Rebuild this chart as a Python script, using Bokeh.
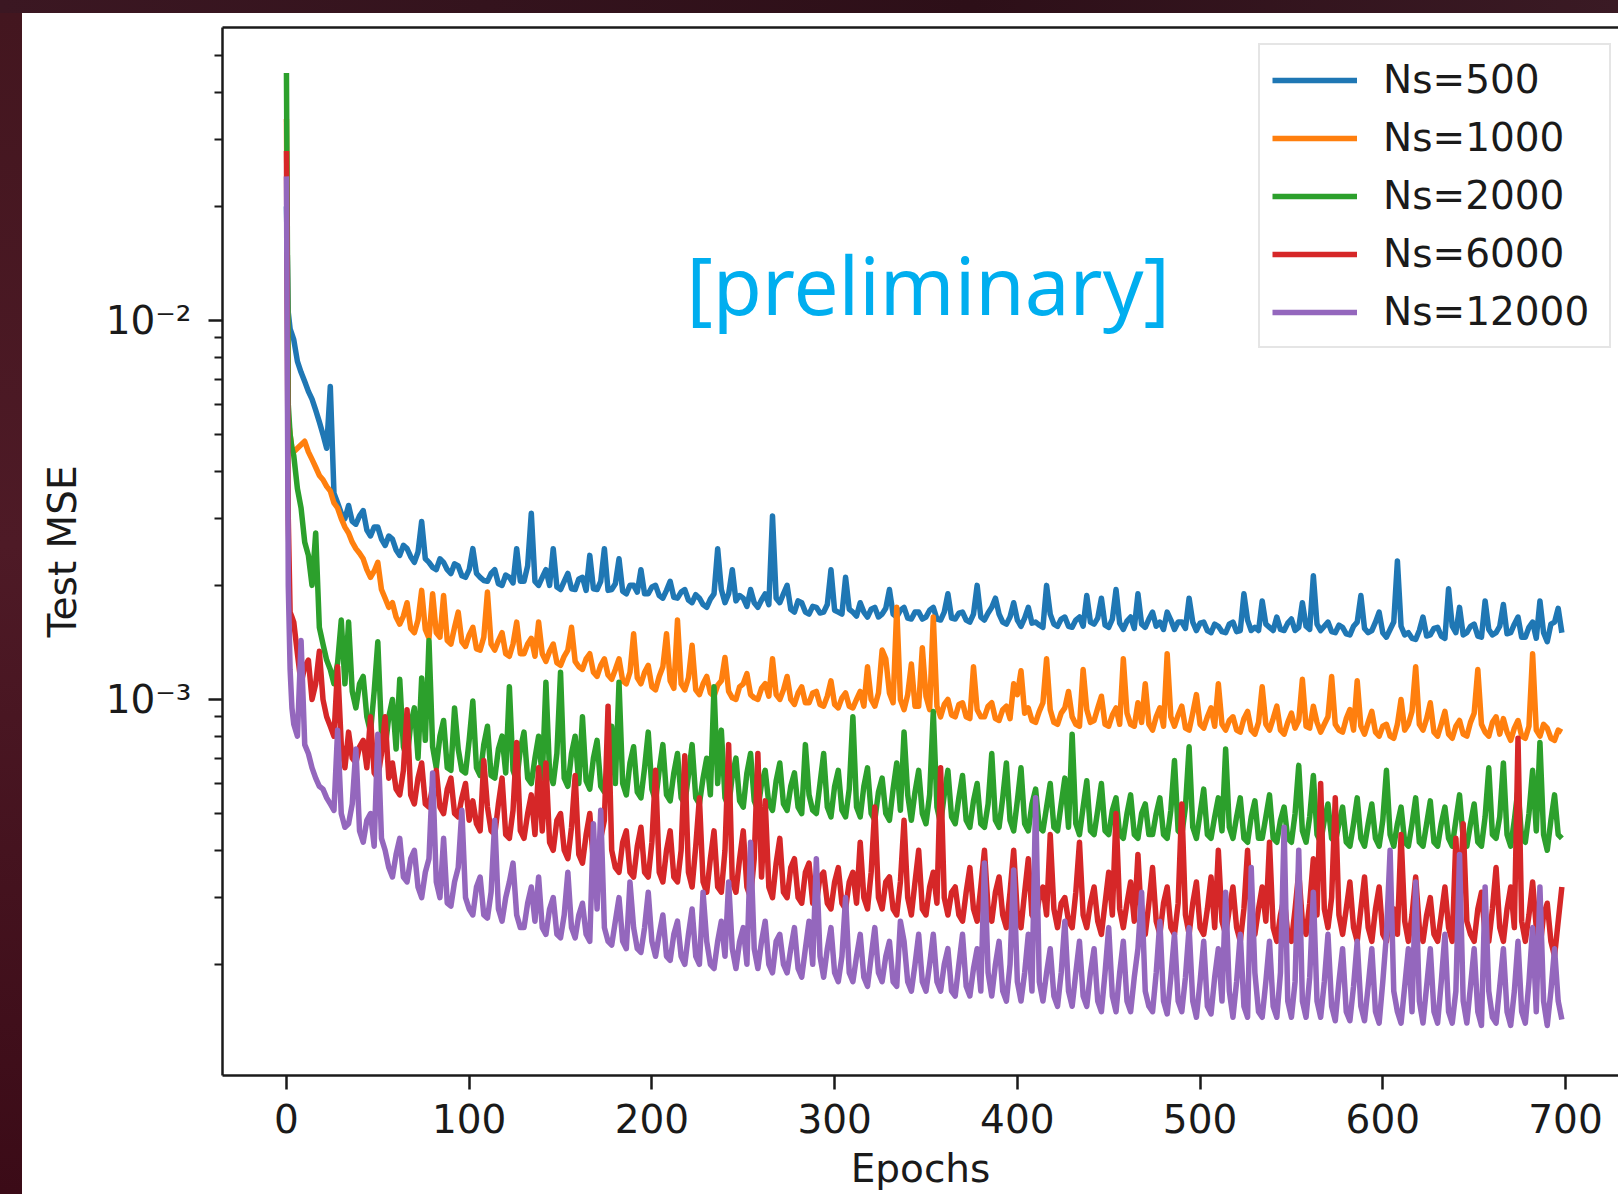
import numpy as np
from bokeh.plotting import figure
from bokeh.models import Range1d, FixedTicker, LinearAxis, Legend, LegendItem, Label, Spacer
from bokeh.layouts import column, row
from bokeh.embed import file_html
from bokeh.resources import INLINE

# Epochs at which the test error is sampled
epochs = [0, 1, 2, 3, 4, 6, 8, 10, 12, 14, 16, 18, 20, 22, 24, 26, 28] + list(range(30, 700, 2))

# Test MSE in units of 1e-4; after the first 17 samples each row spans 20 epochs
mse_ns500 = [
    200, 105, 95, 92, 89, 78, 73, 69, 65, 62, 58, 54, 50, 46, 67, 35, 33,
    31, 30, 32.5, 29.5, 29, 30.5, 31.5, 28, 27, 28.5,            # 30
    28.5, 26.5, 25.5, 27, 26.5, 24.8, 24, 25.5, 25, 23.8,        # 50
    23, 24.5, 29.5, 23.5, 23, 22.3, 22, 23.5, 23, 22,            # 70
    21.5, 22.8, 22.5, 21.2, 21, 22, 25, 21.5, 21, 20.6,          # 90
    20.5, 21.5, 22, 20.2, 20, 21.3, 21, 20.3, 25, 20.5,          # 110
    20.5, 22.5, 31, 20.5, 20, 21, 22, 20, 25, 19.8,              # 130
    19.5, 20.5, 21.5, 19.6, 19.5, 20.8, 21, 19.4, 24, 19.6,      # 150
    19.5, 20.5, 25, 19.4, 19.5, 20.2, 23.5, 19.3, 19, 20,        # 170
    20, 19.2, 22, 19, 19, 19.8, 20, 18.8, 18.5, 19.4,            # 190
    20.5, 18.6, 18.5, 19.2, 19.5, 18.3, 18, 18.9, 18.5, 17.8,    # 210
    17.5, 18.4, 19, 25, 19.5, 18, 19, 22, 18.2, 18.8,            # 230
    18.5, 17.6, 19.5, 18, 17.5, 18.3, 19, 17.8, 30.5, 18.5,      # 250
    18, 19, 20, 17.3, 17, 18.2, 18, 17, 16.8, 17.6,              # 270
    17.5, 16.9, 17, 17.8, 22, 17.2, 17, 16.8, 21, 17.3,          # 290
    17, 16.6, 18, 17, 16.5, 17.3, 17.5, 16.5, 16.8, 17.4,        # 310
    19.5, 16.8, 16.5, 17.2, 17.5, 16.4, 16.3, 17, 17, 16.3,      # 330
    16.5, 17.2, 17.5, 16.3, 16.2, 17, 19, 16.4, 16.3, 16.9,      # 350
    17, 16.2, 16, 16.8, 20, 16.5, 16.2, 16.9, 17.5, 18.5,        # 370
    16.8, 16, 15.8, 16.5, 18, 16.2, 15.6, 16.4, 17.5, 15.9,      # 390
    16, 15.7, 15.5, 20, 16.8, 15.8, 15.6, 16.3, 16.5, 15.6,      # 410
    15.5, 16.2, 16.5, 15.6, 18.8, 16, 15.8, 16.4, 18.5, 15.7,    # 430
    15.5, 16.3, 19.5, 15.9, 15.3, 16.1, 16.5, 15.4, 19, 15.8,    # 450
    15.5, 16.3, 17, 15.6, 16, 15.3, 17, 16.2, 15.3, 16,          # 470
    16, 15.4, 18.5, 16, 15.2, 15.9, 16, 15.2, 15, 15.8,          # 490
    15.6, 15.1, 15, 15.8, 16, 15.1, 15.2, 19, 16.2, 15.2,        # 510
    15.5, 15.2, 18.2, 15.8, 15.5, 15.2, 16.5, 15.3, 15.2, 15.9,  # 530
    16.3, 15.2, 15.5, 18, 15.6, 15.3, 21.2, 15.8, 15.2, 15.6,    # 550
    16, 15.1, 15, 15.7, 15.5, 14.9, 14.8, 15.6, 16, 18.8,        # 570
    15.4, 15, 15.2, 16, 17, 15, 14.6, 15.3, 16, 23.2,            # 590
    15.6, 14.8, 15, 14.5, 14.4, 15.2, 16.5, 14.7, 14.8, 15.4,    # 610
    15.5, 14.7, 14.5, 19.6, 15.6, 15, 17.5, 14.8, 15, 15.6,      # 630
    15.8, 14.7, 14.6, 18.2, 15.3, 14.8, 15, 15.6, 17.8, 14.9,    # 650
    15, 15.8, 16.5, 14.6, 14.6, 15.5, 16, 14.5, 18.2, 15,        # 670
    14.2, 15.8, 16, 17.4, 15,                                    # 690
]

mse_ns1000 = [
    340, 55, 50, 46, 45, 46, 47, 48, 45, 43, 41, 39, 38, 36.5, 35.5, 33, 32,
    30, 28.5, 27.5, 26, 25, 24.3, 23.5, 22, 21, 21.8,            # 30
    23, 19.5, 18.5, 17.5, 18, 16.5, 15.8, 16.6, 18, 15.4,        # 50
    15, 16.2, 19.4, 15.3, 14.5, 19, 15, 14.6, 18.8, 14.3,        # 70
    14, 15.5, 17, 14.2, 13.8, 14.8, 15.5, 13.6, 13.5, 14.6,      # 90
    19.2, 14, 13.5, 14.3, 15, 13.2, 13, 14, 16, 13.2,            # 110
    13.2, 14, 14.5, 13, 16, 13.2, 12.6, 13.4, 14, 12.5,          # 130
    12.3, 13, 13.5, 15.5, 12.6, 12.2, 12, 12.8, 13.2, 11.8,      # 150
    11.5, 12.3, 12.8, 11.6, 11.3, 12, 12.8, 11.2, 11, 11.8,      # 170
    14.9, 11.4, 11, 11.8, 12.3, 10.8, 10.6, 11.5, 12.2, 14.9,    # 190
    11.2, 10.7, 16.2, 11, 10.6, 11.4, 13.9, 10.6, 10.3, 11,      # 210
    11.5, 10.4, 10.2, 10.9, 11.2, 12.9, 10.5, 10.1, 10, 10.8,    # 230
    11, 11.7, 10.3, 10.1, 10, 10.7, 11, 10.2, 12.8, 10.3,        # 250
    10, 10.6, 11.5, 10, 9.7, 10.4, 10.8, 9.8, 9.8, 10.4,         # 270
    10.5, 9.7, 9.6, 10.2, 11.2, 9.7, 9.5, 10.1, 10.4, 9.6,       # 290
    9.5, 10, 10.5, 9.6, 12.2, 10, 9.6, 10.4, 13.5, 12.8,         # 310
    10.4, 9.8, 17.5, 10, 9.4, 10.3, 12.4, 9.6, 9.6, 13.7,        # 330
    10.2, 9.4, 16.5, 9.6, 9, 9.7, 10, 9.1, 9, 9.7,               # 350
    9.8, 9, 8.9, 12.2, 9.4, 9, 9, 9.6, 9.8, 8.9,                 # 370
    8.8, 9.4, 9.6, 8.9, 11, 10.3, 11.9, 9.2, 9.5, 8.8,           # 390
    8.7, 9.3, 9.8, 12.8, 9.4, 8.7, 8.6, 9.2, 9.5, 10.5,          # 410
    9, 8.6, 8.5, 12, 9.4, 8.7, 8.8, 9.5, 10.2, 8.6,              # 430
    8.5, 9.1, 9.5, 8.6, 12.8, 9.2, 8.6, 8.5, 9.8, 8.7,           # 450
    11, 8.6, 8.3, 9, 9.5, 8.5, 13.2, 9, 8.5, 9.1,                # 470
    9.6, 8.4, 8.3, 9.2, 10.3, 8.6, 8.4, 9, 9.5, 8.5,             # 490
    11, 8.6, 8.3, 8.8, 9, 8.3, 8.2, 8.9, 9.3, 8.3,               # 510
    8.1, 8.7, 10.8, 8.6, 8.3, 8.9, 9.6, 8.3, 8.1, 8.7,           # 530
    9.2, 8.4, 8.8, 11.3, 8.5, 8.4, 9.6, 8.7, 8.2, 8.6,           # 550
    9, 11.5, 8.6, 8.3, 8.2, 8.9, 9.4, 8.3, 11.2, 8.5,            # 570
    8.1, 8.7, 9.3, 8.2, 8, 8.5, 8.6, 8, 7.9, 8.6,                # 590
    10, 8.3, 8.6, 9.3, 12.2, 8.6, 8.3, 8.9, 9.8, 8.2,            # 610
    8, 8.6, 9.3, 8.1, 7.9, 8.5, 8.8, 8.1, 8, 8.7,                # 630
    9.2, 12, 8.6, 8.2, 8, 8.7, 9, 8.1, 8.9, 8.2,                 # 650
    7.8, 8.4, 8.8, 8, 7.9, 8.5, 13.2, 8.3, 8, 8.6,               # 670
    8.4, 7.9, 7.8, 8.3, 8.2,                                     # 690
]

mse_ns2000 = [
    450, 60, 50, 46, 44, 36, 32, 26, 24, 20, 27.5, 15.5, 14, 12.7, 12, 11, 12.5,
    16.2, 11, 16, 10.5, 9.5, 11, 11.5, 9, 8.2, 10.5,             # 30
    14.2, 8.2, 7.4, 9, 10, 7.4, 11.3, 7.5, 7, 8.6,               # 50
    9.5, 7, 11.4, 7.8, 14.3, 7.5, 6.6, 8, 8.8, 6.6,              # 70
    6.5, 9.5, 7.4, 6.5, 6.4, 7.8, 9.9, 6.6, 6.3, 7.6,            # 90
    8.5, 6.3, 6.2, 7.4, 8, 6.4, 10.8, 6.5, 6.1, 7.4,             # 110
    8.2, 6.2, 6, 7, 8, 6.2, 11.1, 6.4, 6, 7.2,                   # 130
    11.8, 6.2, 5.9, 7.2, 8, 6, 9, 6.1, 5.8, 7,                   # 150
    7.8, 5.9, 5.7, 6.8, 8.5, 6, 11.1, 6, 5.6, 6.8,               # 170
    7.5, 5.7, 5.5, 6.6, 8.2, 5.8, 5.4, 6.5, 7.6, 5.6,            # 190
    5.4, 6.4, 7.2, 5.5, 5.3, 6.3, 7.6, 5.5, 5.3, 6.2,            # 210
    7, 5.6, 10.8, 6, 8.3, 5.5, 5.2, 6.3, 7, 5.4,                 # 230
    5.2, 6.4, 7.2, 5.4, 5.1, 6, 6.5, 5.3, 5.1, 6.1,              # 250
    6.8, 5.3, 5.1, 5.9, 6.4, 5.2, 5, 7.6, 5.6, 5.1,              # 270
    5, 6, 7.2, 5.2, 4.9, 5.9, 6.5, 5.1, 4.9, 5.8,                # 290
    9, 5.2, 4.9, 5.9, 6.6, 5, 4.8, 5.7, 6.2, 5,                  # 310
    4.8, 5.8, 6.8, 5.1, 8.2, 5.6, 4.8, 5.7, 6.5, 5,              # 330
    4.7, 5.6, 9.3, 5.2, 4.7, 5.6, 6.5, 4.9, 4.7, 5.5,            # 350
    6.3, 4.8, 4.6, 5.4, 6, 4.7, 4.6, 5.3, 7.2, 4.8,              # 370
    4.6, 5.5, 6.8, 4.8, 4.5, 5.4, 6.6, 4.7, 4.5, 5.3,            # 390
    5.8, 4.6, 4.5, 5.2, 6, 4.6, 4.5, 5.3, 6.2, 4.6,              # 410
    8.1, 4.7, 4.4, 5.2, 6.1, 4.5, 4.4, 5.1, 6, 4.5,              # 430
    4.4, 5.1, 5.5, 4.4, 4.3, 5, 5.6, 4.4, 4.3, 5,                # 450
    5.3, 4.4, 4.4, 5, 5.5, 4.4, 4.3, 5.1, 6.9, 4.5,              # 470
    4.4, 5.2, 7.5, 4.6, 4.3, 5, 5.8, 4.4, 4.3, 4.9,              # 490
    5.5, 4.5, 7.4, 4.6, 4.3, 4.9, 5.5, 4.3, 4.2, 4.9,            # 510
    5.4, 4.3, 4.3, 4.9, 5.6, 4.3, 4.2, 4.8, 5.2, 4.3,            # 530
    4.2, 5, 6.7, 4.5, 4.2, 4.9, 6.3, 4.4, 4.2, 4.8,              # 550
    5.3, 4.3, 4.2, 4.7, 5.2, 4.2, 4.1, 4.7, 5.5, 4.3,            # 570
    4.1, 4.7, 5.3, 4.3, 4.1, 4.8, 6.5, 4.4, 4.1, 4.7,            # 590
    5.2, 4.2, 4.1, 4.7, 5.5, 4.2, 4.1, 4.7, 5.4, 4.2,            # 610
    4.1, 4.7, 5.2, 4.3, 4.1, 4.8, 5.6, 4.3, 4.1, 4.7,            # 630
    5.3, 4.2, 4.1, 4.9, 6.6, 4.4, 4.3, 4.9, 6.8, 4.4,            # 650
    4.1, 4.8, 5.8, 4.3, 4.2, 5, 6.5, 4.5, 7.7, 4.4,              # 670
    4.0, 4.8, 5.6, 4.4, 4.3,                                     # 690
]

mse_ns6000 = [
    280, 30, 17, 16.5, 16, 13.2, 11, 12.2, 12.7, 10, 11, 13.4, 10, 9, 8.5, 8, 12.2,
    7.6, 6.6, 8.2, 7, 6.8, 7.5, 7.8, 6.6, 9, 6.4,                # 30
    6.2, 7.2, 9, 6.2, 6.8, 5.8, 5.6, 6.5, 9.4, 5.6,              # 50
    5.3, 6.2, 6.8, 5.3, 5.2, 5.9, 6.5, 5.2, 5, 5.8,              # 70
    6.2, 5, 4.9, 5.5, 6, 4.8, 5.4, 4.7, 4.5, 6.9,                # 90
    5.2, 4.5, 4.4, 5.3, 6.2, 4.4, 4.3, 5.1, 7.7, 4.5,            # 110
    4.3, 5, 5.6, 4.4, 6.6, 4.5, 6.8, 4.2, 4, 4.8,                # 130
    5, 4, 3.8, 4.6, 6.3, 3.9, 3.7, 4.4, 5, 3.7,                  # 150
    3.6, 4.3, 4.8, 9.6, 4, 3.6, 3.5, 4.2, 4.5, 3.5,              # 170
    3.4, 4.1, 4.6, 3.5, 3.4, 4.2, 6.5, 3.5, 3.3, 4,              # 190
    4.5, 3.4, 3.3, 4, 7.1, 3.5, 3.2, 4.1, 5.5, 3.3,              # 210
    3.1, 3.8, 4.5, 3.2, 3.1, 4, 7.6, 3.3, 3.1, 3.8,              # 230
    4.5, 3.2, 3, 3.8, 7.2, 3.4, 5.4, 3.2, 3, 3.7,                # 250
    4.3, 3.1, 3, 3.6, 3.8, 3, 2.9, 3.5, 3.7, 2.9,                # 270
    2.9, 3.4, 3.5, 2.9, 2.8, 3.3, 3.6, 2.9, 2.8, 3.3,            # 290
    3.5, 2.9, 4.2, 3, 2.8, 3.5, 5.2, 3, 2.8, 3.3,                # 310
    3.4, 2.8, 2.7, 3.3, 4.8, 3, 2.7, 3.3, 4, 2.8,                # 330
    2.7, 3.2, 3.5, 2.9, 6.6, 3, 2.7, 3.1, 3.2, 2.7,              # 350
    2.6, 3.1, 3.6, 2.8, 2.6, 3.2, 4, 2.8, 2.6, 3.1,              # 370
    3.4, 2.7, 2.5, 3.1, 4, 2.7, 2.5, 3.1, 3.8, 2.7,              # 390
    2.6, 3, 3.2, 2.7, 4.4, 2.8, 2.5, 2.9, 3, 2.6,                # 410
    2.5, 3.1, 4.2, 2.7, 2.5, 2.9, 3.2, 2.6, 2.4, 2.9,            # 430
    3.5, 2.7, 5, 2.8, 2.5, 2.9, 3.3, 2.6, 3.9, 2.6,              # 450
    2.4, 2.9, 3.6, 2.6, 2.4, 2.9, 3.2, 2.5, 2.4, 2.9,            # 470
    5.3, 2.7, 2.4, 2.9, 3.3, 2.5, 2.4, 2.8, 3.4, 2.5,            # 490
    4, 2.6, 2.4, 2.8, 3.2, 2.5, 2.3, 2.8, 4, 2.6,                # 510
    2.4, 2.8, 3.2, 2.6, 4.2, 2.5, 2.3, 2.7, 3, 2.4,              # 530
    2.3, 2.8, 3.5, 2.6, 2.4, 2.9, 3.8, 2.7, 6, 2.8,              # 550
    2.5, 3, 5.5, 2.7, 2.4, 2.8, 3.3, 2.5, 2.3, 2.8,              # 570
    3.4, 2.5, 2.3, 2.8, 3.2, 2.4, 2.3, 2.7, 2.8, 2.4,            # 590
    4.4, 2.6, 2.3, 2.7, 3.4, 2.5, 2.3, 2.7, 3, 2.4,              # 610
    2.3, 2.7, 3.2, 2.5, 2.3, 4.3, 2.8, 4.7, 2.6, 2.4,            # 630
    2.3, 2.8, 3.1, 2.4, 2.3, 2.8, 3.6, 2.5, 2.3, 2.8,            # 650
    3.2, 2.5, 7.9, 2.6, 2.3, 2.7, 3.3, 2.5, 2.2, 2.7,            # 670
    2.9, 2.3, 2.1, 2.6, 3.2,                                     # 690
]

mse_ns12000 = [
    240, 20, 12, 9.5, 8.6, 8.0, 14.3, 7.6, 7.2, 6.6, 6.2, 5.9, 5.8, 5.5, 5.3, 5.1, 8.3,
    5.0, 4.6, 4.7, 5.3, 7.4, 4.5, 4.2, 4.8, 5, 4.1,              # 30
    8.1, 4.3, 4, 3.6, 3.4, 3.9, 4.3, 3.4, 3.3, 3.8,              # 50
    4, 3.2, 3, 3.5, 3.8, 6.4, 3.3, 3, 4.3, 2.9,                  # 70
    2.85, 3.3, 3.6, 5.1, 3, 2.8, 2.7, 3.2, 3.4, 2.7,             # 90
    2.65, 3.1, 4.8, 2.8, 2.6, 3, 3.3, 3.7, 2.7, 2.5,             # 110
    2.5, 2.9, 3.2, 2.6, 3.4, 2.5, 2.4, 2.8, 3, 2.4,              # 130
    2.35, 2.7, 3.5, 2.5, 2.35, 2.7, 2.9, 2.4, 2.3, 4.7,          # 150
    2.8, 5.1, 2.5, 2.3, 2.25, 2.6, 3, 2.3, 2.2, 3.3,             # 170
    2.5, 2.2, 2.15, 2.5, 3.1, 2.3, 2.1, 2.4, 2.7, 2.1,           # 190
    2.05, 2.4, 2.6, 2.1, 2.0, 2.4, 2.8, 2.1, 2.0, 3.1,           # 210
    2.3, 2.0, 1.95, 2.3, 2.6, 2.1, 3.3, 2.2, 1.95, 2.3,          # 230
    2.5, 2.0, 4.2, 2.2, 1.95, 2.3, 2.6, 2.0, 1.9, 2.3,           # 250
    2.4, 2.0, 1.9, 2.2, 2.5, 1.95, 1.85, 2.2, 2.6, 2.0,          # 270
    3.8, 2.1, 1.85, 2.2, 2.5, 1.9, 1.8, 2.1, 3.0, 1.9,           # 290
    1.8, 2.1, 2.4, 1.85, 1.75, 2.1, 2.5, 1.9, 1.8, 2.1,          # 310
    2.3, 1.8, 1.75, 2.6, 2.3, 1.8, 1.7, 2.0, 2.4, 1.8,           # 330
    1.7, 2.0, 2.4, 1.8, 1.7, 2.0, 2.2, 1.7, 1.65, 2.0,           # 350
    2.4, 1.75, 1.65, 1.95, 2.2, 1.7, 3.7, 1.9, 1.65, 2.0,        # 370
    2.3, 1.7, 1.6, 2.0, 3.55, 1.8, 1.6, 1.9, 2.4, 1.7,           # 390
    5.5, 1.8, 1.6, 1.9, 2.2, 1.65, 1.55, 1.9, 2.6, 1.7,          # 410
    1.55, 1.9, 2.3, 1.65, 1.55, 1.9, 2.2, 1.6, 1.5, 1.9,         # 430
    2.5, 1.65, 1.5, 1.9, 2.3, 1.6, 1.5, 1.85, 2.2, 3.1,          # 450
    1.7, 1.55, 1.5, 1.9, 2.6, 1.6, 1.48, 1.85, 2.4, 1.6,         # 470
    1.5, 1.85, 2.5, 1.6, 1.45, 1.8, 2.3, 1.55, 1.48, 1.85,       # 490
    2.2, 1.6, 3.1, 1.7, 1.45, 1.8, 2.4, 1.55, 1.45, 3.6,         # 510
    1.9, 1.5, 1.45, 1.8, 2.3, 1.55, 1.45, 1.9, 4.6, 1.6,         # 530
    1.45, 1.8, 4.0, 1.6, 1.45, 1.85, 3.1, 1.6, 1.45, 1.8,        # 550
    2.4, 1.55, 1.42, 1.8, 2.2, 1.5, 1.42, 1.75, 2.3, 1.55,       # 570
    1.42, 1.75, 2.2, 1.5, 1.4, 1.8, 2.4, 4.0, 1.7, 1.5,          # 590
    1.4, 1.75, 2.2, 1.5, 3.3, 1.6, 1.4, 1.75, 2.2, 1.5,          # 610
    1.4, 1.8, 2.4, 1.5, 1.4, 1.7, 3.9, 1.6, 1.4, 1.75,           # 630
    2.2, 1.5, 1.38, 3.2, 1.7, 1.45, 1.4, 1.75, 2.2, 1.5,         # 650
    1.38, 1.7, 2.3, 1.5, 1.4, 1.8, 2.5, 1.5, 3.2, 1.6,           # 670
    1.38, 1.7, 2.2, 1.6, 1.43,                                   # 690
]

series_values = [mse_ns500, mse_ns1000, mse_ns2000, mse_ns6000, mse_ns12000]
series_labels = ["Ns=500", "Ns=1000", "Ns=2000", "Ns=6000", "Ns=12000"]
series_colors = ["#1f77b4", "#ff7f0e", "#2ca02c", "#d62728", "#9467bd"]
for vals in series_values:
    assert len(vals) == len(epochs), (len(vals), len(epochs))

x_ticks = [0, 100, 200, 300, 400, 500, 600, 700]
y_major = [1e-3, 1e-2]
y_major_labels = ["10\u207b\u00b3", "10\u207b\u00b2"]
y_minor = [2e-4, 3e-4, 4e-4, 5e-4, 6e-4, 7e-4, 8e-4, 9e-4,
           2e-3, 3e-3, 4e-3, 5e-3, 6e-3, 7e-3, 8e-3, 9e-3,
           2e-2, 3e-2, 4e-2, 5e-2]

FONT = "DejaVu Sans"
INK = "#1a1a1a"

p = figure(width=1596, height=1181, output_backend="svg", toolbar_location=None,
           y_axis_type="log",
           x_range=Range1d(-35.0, 729.0), y_range=Range1d(1.018e-4, 5.93e-2),
           min_border_left=200, min_border_right=0, min_border_top=14, min_border_bottom=119)
p.grid.visible = False
p.outline_line_color = None
p.background_fill_color = "white"
p.border_fill_color = "white"

lines = []
for vals, color in zip(series_values, series_colors):
    mse = np.asarray(vals, dtype=float) * 1e-4
    lines.append(p.line(epochs, mse, line_color=color, line_width=5.5, line_join="round"))


def style_axis(ax):
    ax.axis_line_color = INK
    ax.axis_line_width = 2.5
    ax.major_tick_line_color = INK
    ax.major_tick_line_width = 2.5
    ax.minor_tick_line_color = INK
    ax.minor_tick_line_width = 2
    ax.major_tick_in = 0
    ax.major_tick_out = 14
    ax.minor_tick_in = 0
    ax.minor_tick_out = 8
    ax.major_label_text_font = FONT
    ax.major_label_text_font_size = "39px"
    ax.major_label_text_color = INK
    ax.axis_label_text_font = FONT
    ax.axis_label_text_font_size = "39px"
    ax.axis_label_text_font_style = "normal"
    ax.axis_label_text_color = INK


xa = p.xaxis[0]
style_axis(xa)
xa.ticker = FixedTicker(ticks=x_ticks, minor_ticks=[])
xa.axis_label = "Epochs"
xa.major_label_standoff = 14
xa.axis_label_standoff = 10

ya = p.yaxis[0]
style_axis(ya)
ya.ticker = FixedTicker(ticks=y_major, minor_ticks=y_minor)
ya.major_label_overrides = dict(zip(y_major, y_major_labels))
ya.axis_label = "Test MSE"
ya.major_label_standoff = 17
ya.axis_label_standoff = 18

# plain top spine
top = LinearAxis(ticker=FixedTicker(ticks=[]), axis_line_color=INK, axis_line_width=2.5,
                 major_tick_out=0, major_tick_in=0, minor_tick_out=0, minor_tick_in=0,
                 major_label_standoff=0, major_label_text_font_size="0px")
p.add_layout(top, "above")

legend = Legend(
    items=[LegendItem(label=lab, renderers=[r]) for lab, r in zip(series_labels, lines)],
    location=(1036, 727), margin=0, padding=12, spacing=13,
    glyph_width=85, glyph_height=44, label_height=44, label_width=214, label_standoff=26,
    label_text_font=FONT, label_text_font_size="39px", label_text_color=INK,
    border_line_color="#cccccc", border_line_width=2,
    background_fill_color="white", background_fill_alpha=0.8,
)
p.add_layout(legend)

p.add_layout(Label(x=464, y=792, x_units="screen", y_units="screen", text="[preliminary]",
                   text_font="Noto Sans", text_font_size="80px", text_color="#00aeef",
                   text_baseline="alphabetic", text_align="left"))

top_strip = Spacer(width=1618, height=13,
                   styles={"background": "linear-gradient(90deg, #3b1722, #2d0f18 60%, #3a1a24)"})
left_strip = Spacer(width=22, height=1181,
                    styles={"background": "linear-gradient(180deg, #43161f, #4e1a26 45%, #3b0b17)"})
page = column(top_strip, row(left_strip, p, spacing=0), spacing=0)

open("out.html", "w").write(file_html(page, INLINE))
